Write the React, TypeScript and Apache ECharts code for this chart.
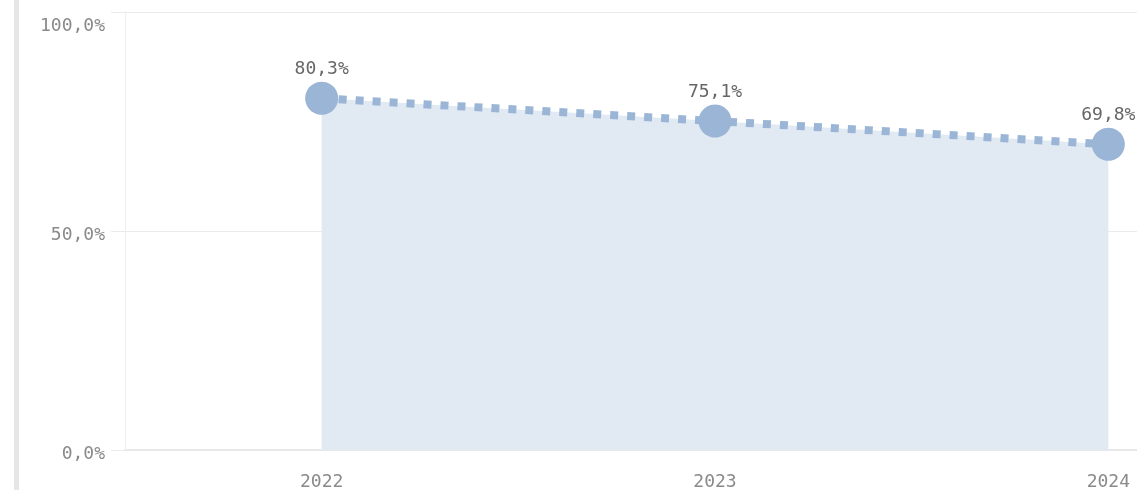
import React, { useEffect, useRef } from "react";
import * as echarts from "echarts";

const categories = ["2022", "2023", "2024"];
const values = [80.3, 75.1, 69.8];
const yTicks = [0, 50, 100];

const fmt = (v: number) => v.toFixed(1).replace(".", ",") + "%";

export default function App() {
  const ref = useRef<HTMLDivElement>(null);
  useEffect(() => {
    if (!ref.current) return;
    const chart = echarts.init(ref.current, null, { renderer: "svg" });
    const font = "'DejaVu Sans Mono', monospace";
    chart.setOption({
      animation: false,
      graphic: [
        { type: "rect", left: 14, top: 0, shape: { width: 5, height: 490 }, style: { fill: "#e6e6e6" } },
      ],
      grid: { left: 125, top: 12, bottom: 40, width: 1180, outerBoundsMode: "none", containLabel: false },
      xAxis: {
        type: "category",
        data: categories,
        boundaryGap: true,
        axisLine: { show: true, lineStyle: { color: "#e8e8e8", width: 2 } },
        axisTick: { show: false },
        axisLabel: { color: "#8a8a8a", fontFamily: font, fontSize: 18, margin: 21 },
        splitLine: { show: false },
      },
      yAxis: {
        type: "value",
        min: yTicks[0],
        max: yTicks[yTicks.length - 1],
        interval: 50,
        axisLine: { show: true, lineStyle: { color: "#eeeeee", width: 1 } },
        axisTick: { show: true, length: 14, lineStyle: { color: "#ebebeb" } },
        splitLine: { show: true, lineStyle: { color: "#ebebeb" } },
        axisLabel: {
          color: "#8a8a8a",
          fontFamily: font,
          fontSize: 18,
          margin: 20,
          formatter: (v: number) => (v === 100 ? "{t|" + fmt(v) + "}" : "{n|" + fmt(v) + "}"),
          rich: {
            t: { fontFamily: font, fontSize: 18, color: "#8a8a8a", padding: [24, 0, 0, 0] },
            n: { fontFamily: font, fontSize: 18, color: "#8a8a8a", padding: [4, 0, 0, 0] },
          },
        },
      },
      series: [
        {
          type: "line",
          data: values,
          symbol: "circle",
          symbolSize: 33,
          itemStyle: { color: "#9ab5d5" },
          lineStyle: { color: "#9ab5d5", width: 8, type: [8, 9] },
          areaStyle: { color: "#e1e9f3", opacity: 1 },
          label: {
            show: true,
            position: "top",
            distance: 5,
            color: "#666666",
            fontFamily: font,
            fontSize: 18,
            formatter: (p: any) => fmt(p.value),
          },
        },
      ],
    });
    return () => chart.dispose();
  }, []);
  return <div ref={ref} style={{ position: "fixed", left: 0, top: 0, width: 1137, height: 490 }} />;
}
